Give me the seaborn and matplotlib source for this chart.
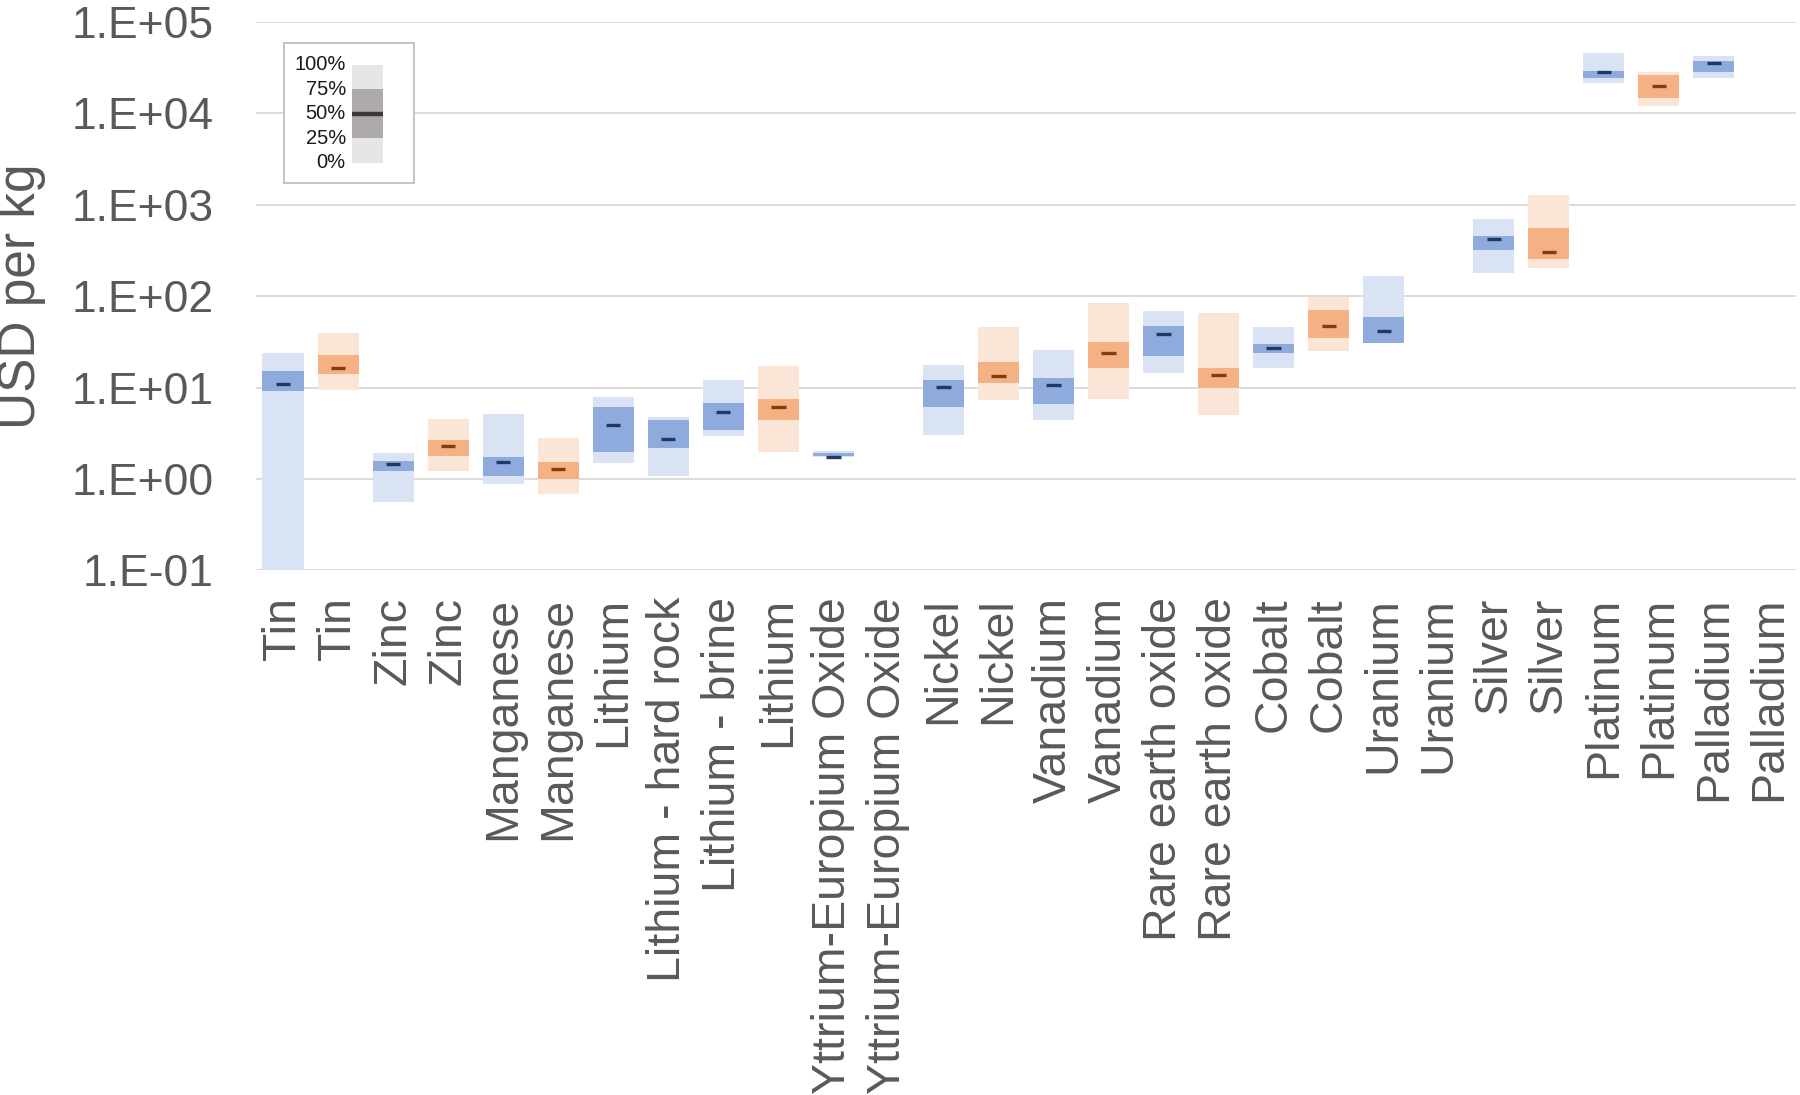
import numpy as np
import matplotlib
matplotlib.use("Agg")
import matplotlib.pyplot as plt
import seaborn as sns

# ---------------------------------
# DATA (USD per kg)
# ---------------------------------
categories = ["Tin", "Tin", "Zinc", "Zinc", "Manganese", "Manganese", "Lithium",
              "Lithium - hard rock", "Lithium - brine", "Lithium",
              "Yttrium-Europium Oxide", "Yttrium-Europium Oxide", "Nickel", "Nickel",
              "Vanadium", "Vanadium", "Rare earth oxide", "Rare earth oxide",
              "Cobalt", "Cobalt", "Uranium", "Uranium", "Silver", "Silver",
              "Platinum", "Platinum", "Palladium", "Palladium"]

source = ["A", "B", "A", "B", "A", "B", "A", "A", "A", "B", "A", "B", "A", "B",
          "A", "B", "A", "B", "A", "B", "A", "B", "A", "B", "A", "B", "A", "B"]

nan = np.nan
p0 = [0.1, 9.4, 0.56, 1.23, 0.89, 0.68, 1.48, 1.07, 2.93, 1.98, 1.73, nan, 3.07, 7.3,
      4.38, 7.57, 14.5, 5.06, 16.2, 25.1, 31, nan, 178, 205, 21300, 11900, 24600, nan]
p25 = [9.2, 14.0, 1.23, 1.81, 1.09, 1.0, 1.98, 2.19, 3.42, 4.38, 1.79, nan, 6.07, 11.2,
       6.55, 16.3, 22.4, 10.0, 24.2, 34.5, 31, nan, 319, 254, 24600, 14700, 28200, nan]
p50 = [10.9, 16.3, 1.47, 2.28, 1.53, 1.28, 3.95, 2.71, 5.41, 6.07, 1.76, nan, 10.1, 13.3,
       10.8, 24.2, 38.7, 13.8, 26.8, 47.7, 41.3, nan, 422, 304, 28400, 19800, 35500, nan]
p75 = [15.1, 22.8, 1.57, 2.66, 1.76, 1.53, 6.07, 4.47, 6.74, 7.5, 1.94, nan, 12.0, 19.2,
       12.8, 31.9, 47.7, 16.2, 30.1, 71.5, 59, nan, 451, 562, 29000, 26400, 37600, nan]
p100 = [23.7, 39.8, 1.95, 4.5, 5.2, 2.79, 7.9, 4.8, 12.0, 17.3, 2.04, nan, 17.9, 46,
        25.9, 85, 68.8, 66.2, 46, 99, 166, nan, 694, 1283, 45500, 28200, 42500, nan]

ytick_values = [0.1, 1, 10, 100, 1000, 10000, 100000]
ytick_labels = ["1.E-01", "1.E+00", "1.E+01", "1.E+02", "1.E+03", "1.E+04", "1.E+05"]

legend_levels = [0, 25, 50, 75, 100]
legend_labels = ["0%", "25%", "50%", "75%", "100%"]

# colours per source: (range, quartiles, median)
palette = {
    "A": ("#DAE3F3", "#8FAADC", "#1F3864"),
    "B": ("#FBE5D6", "#F4B183", "#843C0C"),
}
legend_colors = ("#E7E6E6", "#AEAAAA", "#3A3838")

TEXT = "#595959"

sns.set_theme(style="white")
plt.rcParams["font.family"] = ["Liberation Sans", "DejaVu Sans"]

fig = plt.figure(figsize=(18, 10.95), dpi=100)
ax = fig.add_axes([0.142, 0.479, 0.856, 0.501])

x = np.arange(len(categories))
lo, q1, med, q3, hi = (np.array(v, dtype=float) for v in (p0, p25, p50, p75, p100))
bar_w = 0.75

for s in ["A", "B"]:
    m = np.array([c == s for c in source])
    light, mid, dark = palette[s]
    # full range, interquartile range, median
    ax.bar(x[m], hi[m] - lo[m], bottom=lo[m], width=bar_w, color=light, linewidth=0, zorder=2)
    ax.bar(x[m], q3[m] - q1[m], bottom=q1[m], width=bar_w, color=mid, linewidth=0, zorder=3)
    ax.hlines(med[m], x[m] - 0.13, x[m] + 0.13, color=dark, linewidth=2.4, zorder=4)

ax.set_yscale("log")
ax.set_ylim(0.1, 100000)
ax.set_xlim(-0.5, len(categories) - 0.5)
ax.set_yticks(ytick_values, ytick_labels)
ax.minorticks_off()
ax.set_xticks(x, categories, rotation=90)
ax.tick_params(axis="x", length=0, pad=19, labelsize=33.5, labelcolor=TEXT)
ax.tick_params(axis="y", length=0, pad=30, labelsize=32, labelcolor=TEXT)

ax.yaxis.grid(True, color="#D9D9D9", linewidth=1.3)
ax.xaxis.grid(False)
ax.set_axisbelow(True)
sns.despine(ax=ax, left=True, bottom=True)

ax.set_ylabel("USD per kg", fontsize=37, color=TEXT)
ax.yaxis.set_label_coords(-0.136, 0.5)

# ---------------------------------
# LEGEND KEY (quantile schematic)
# ---------------------------------
lax = fig.add_axes([284 / 1800, 1 - 183 / 1095, 130 / 1800, 140 / 1095])
lax.set_xlim(-2.63, 1.47)
lax.set_ylim(-20.8, 122.5)
lax.bar(0, legend_levels[4] - legend_levels[0], bottom=legend_levels[0], width=1,
        color=legend_colors[0], linewidth=0)
lax.bar(0, legend_levels[3] - legend_levels[1], bottom=legend_levels[1], width=1,
        color=legend_colors[1], linewidth=0)
lax.hlines(legend_levels[2], -0.5, 0.5, color=legend_colors[2], linewidth=3.2)
for lvl, lab in zip(legend_levels, legend_labels):
    lax.text(-0.68, lvl, lab, ha="right", va="center", fontsize=14.5, color="#1a1a1a")
lax.set_xticks([])
lax.set_yticks([])
lax.set_facecolor("white")
for sp in lax.spines.values():
    sp.set_visible(True)
    sp.set_color("#BFBFBF")
    sp.set_linewidth(1.3)

fig.savefig("out.png", dpi=100)
